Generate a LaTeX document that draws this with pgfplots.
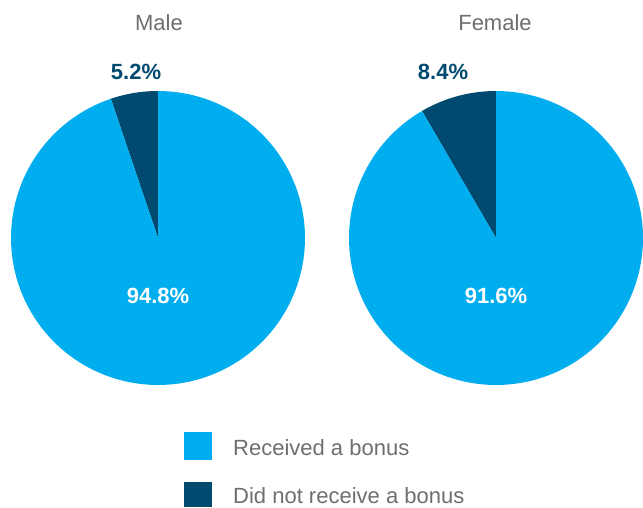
\documentclass[border=0pt]{standalone}
\usepackage{pgfplots}
\pgfplotsset{compat=1.18}
\usepackage{fontspec}
\setmainfont{Liberation Sans}
\definecolor{lightb}{HTML}{00ADEF}
\definecolor{darkb}{HTML}{004A6F}
\definecolor{txt}{HTML}{6E6E6E}
% shares in percent
\def\maleNo{5.2}\def\maleYes{94.8}
\def\femaleNo{8.4}\def\femaleYes{91.6}
\begin{document}
\begin{tikzpicture}
\begin{axis}[hide axis, scale only axis, width=643pt, height=507pt,
  xmin=0, xmax=643, ymin=-507, ymax=0, clip=false]
\path (axis cs:0,0) rectangle (axis cs:643,-507);
% Male pie
\addplot[fill=darkb, draw=none, domain=0:\maleNo, samples=20, variable=\t]
  ({158+147*cos(90+3.6*\t)},{-238+147*sin(90+3.6*\t)}) -- (axis cs:158,-238) -- cycle;
\addplot[fill=lightb, draw=none, domain=\maleNo:\maleNo+\maleYes, samples=150, variable=\t]
  ({158+147*cos(90+3.6*\t)},{-238+147*sin(90+3.6*\t)}) -- (axis cs:158,-238) -- cycle;
% Female pie
\addplot[fill=darkb, draw=none, domain=0:\femaleNo, samples=20, variable=\t]
  ({496+147*cos(90+3.6*\t)},{-238+147*sin(90+3.6*\t)}) -- (axis cs:496,-238) -- cycle;
\addplot[fill=lightb, draw=none, domain=\femaleNo:\femaleNo+\femaleYes, samples=150, variable=\t]
  ({496+147*cos(90+3.6*\t)},{-238+147*sin(90+3.6*\t)}) -- (axis cs:496,-238) -- cycle;
% titles
\node[anchor=base, text=txt, font=\fontsize{22}{26}\selectfont] at (axis cs:159,-31) {Male};
\node[anchor=base, text=txt, font=\fontsize{22}{26}\selectfont] at (axis cs:495,-31) {Female};
% value labels
\node[anchor=base, text=darkb, font=\fontsize{22}{26}\selectfont\bfseries] at (axis cs:136,-80) {5.2\%};
\node[anchor=base, text=darkb, font=\fontsize{22}{26}\selectfont\bfseries] at (axis cs:443,-80) {8.4\%};
\node[anchor=base, text=white, font=\fontsize{22}{26}\selectfont\bfseries] at (axis cs:158,-303) {94.8\%};
\node[anchor=base, text=white, font=\fontsize{22}{26}\selectfont\bfseries] at (axis cs:496,-303) {91.6\%};
% legend
\fill[lightb] (axis cs:184,-432) rectangle (axis cs:212,-460);
\fill[darkb] (axis cs:184,-482) rectangle (axis cs:212,-507);
\node[anchor=base west, inner sep=0pt, text=txt, font=\fontsize{22}{26}\selectfont] at (axis cs:233,-455) {Received a bonus};
\node[anchor=base west, inner sep=0pt, text=txt, font=\fontsize{22}{26}\selectfont] at (axis cs:233,-503) {Did not receive a bonus};
\end{axis}
\end{tikzpicture}
\end{document}
